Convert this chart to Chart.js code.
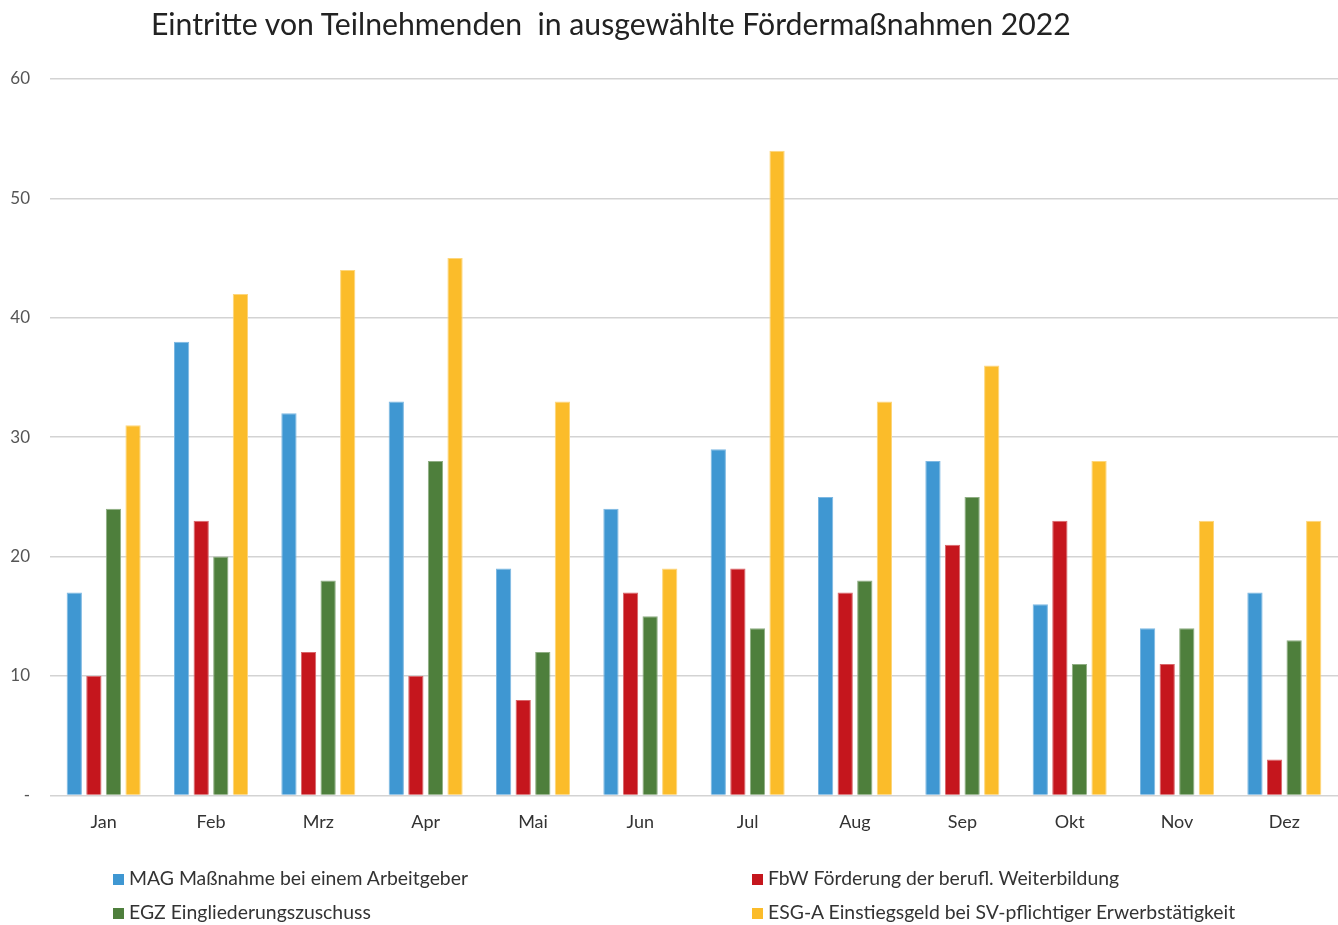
<!DOCTYPE html>
<html>
<head>
<meta charset="utf-8">
<script src="https://cdn.jsdelivr.net/npm/chart.js@4/dist/chart.umd.min.js"></script>
<style>
    body { margin: 0; background: #fff; font-family: Lato, sans-serif; }
    #wrap { position: relative; width: 1338px; height: 925px; }
    #title { position: absolute; left: 151px; top: 5px; font-size: 30.2px; color: #222; white-space: nowrap; }
    .leg { position: absolute; font-size: 19.4px; color: #333; white-space: nowrap; }
    .leg span { display: inline-block; width: 11px; height: 11px; margin-right: 5px; }
</style>
</head>
<body>
<div id="wrap">
    <div id="title">Eintritte von Teilnehmenden&nbsp; in ausgewählte Fördermaßnahmen 2022</div>
    <canvas id="chart" width="1338" height="925"></canvas>
    <div id="legend"></div>
</div>
<script>
// Daten
const months = ['Jan', 'Feb', 'Mrz', 'Apr', 'Mai', 'Jun', 'Jul', 'Aug', 'Sep', 'Okt', 'Nov', 'Dez'];
const seriesNames = [
    'MAG Maßnahme bei einem Arbeitgeber',
    'FbW Förderung der berufl. Weiterbildung',
    'EGZ Eingliederungszuschuss',
    'ESG-A Einstiegsgeld bei SV-pflichtiger Erwerbstätigkeit'
];
const mag = [17, 38, 32, 33, 19, 24, 29, 25, 28, 16, 14, 17];
const fbw = [10, 23, 12, 10, 8, 17, 19, 17, 21, 23, 11, 3];
const egz = [24, 20, 18, 28, 12, 15, 14, 18, 25, 11, 14, 13];
const esg = [31, 42, 44, 45, 33, 19, 54, 33, 36, 28, 23, 23];
const yTicks = [0, 10, 20, 30, 40, 50, 60];

const colors = ['#3f97d2', '#c5161d', '#4e7f3c', '#fbbc2a'];
const edges = ['#7db8e2', '#d9666a', '#8fae83', '#fdd67c'];

const datasets = [mag, fbw, egz, esg].map((d, i) => ({
    label: seriesNames[i],
    data: d,
    backgroundColor: colors[i],
    borderColor: edges[i],
    borderWidth: 1,
    categoryPercentage: 0.73,
    barPercentage: 0.78
}));

new Chart(document.getElementById('chart'), {
    type: 'bar',
    data: { labels: months, datasets: datasets },
    options: {
        responsive: false,
        animation: false,
        layout: { padding: { top: 79, left: 0, right: 0, bottom: 84 } },
        plugins: { legend: { display: false }, tooltip: { enabled: false } },
        scales: {
            x: {
                grid: { display: false },
                border: { display: false },
                ticks: { color: '#333', font: { family: 'Lato', size: 18 }, padding: 8 }
            },
            y: {
                min: 0,
                max: 60,
                afterBuildTicks: axis => { axis.ticks = yTicks.map(v => ({ value: v })); },
                afterFit: axis => { axis.width = 50; },
                grid: { color: '#d3d3d3', lineWidth: 1.5, drawTicks: false },
                border: { display: false },
                ticks: {
                    color: '#555',
                    font: { family: 'Lato', size: 17 },
                    padding: 20,
                    callback: v => v === 0 ? '-' : v
                }
            }
        }
    }
});

// Legende (zwei Spalten)
const legPos = [[113, 866], [752, 866], [113, 900], [752, 900]];
const legend = document.getElementById('legend');
[0, 1, 2, 3].forEach(i => {
    const el = document.createElement('div');
    el.className = 'leg';
    el.style.left = legPos[i][0] + 'px';
    el.style.top = legPos[i][1] + 'px';
    el.innerHTML = '<span style="background:' + colors[i] + '"></span>' + seriesNames[i];
    legend.appendChild(el);
});
</script>
</body>
</html>
